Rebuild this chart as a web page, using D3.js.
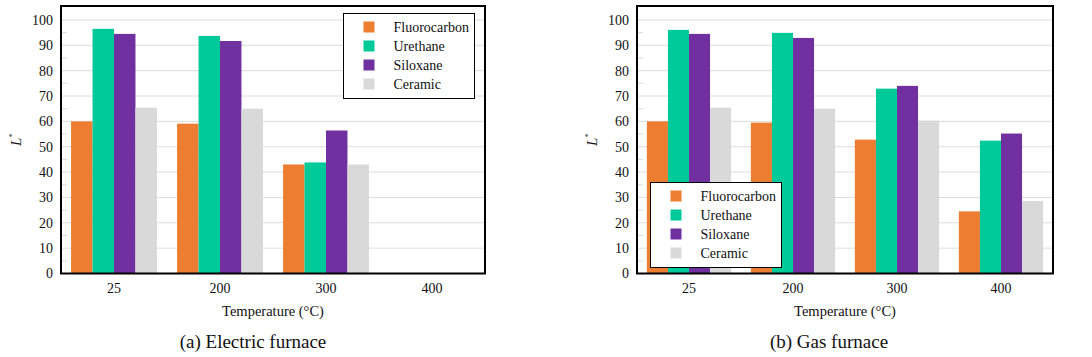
<!DOCTYPE html>
<html><head><meta charset="utf-8">
<script src="https://cdn.jsdelivr.net/npm/d3@7"></script>
<style>body{margin:0;background:#fff}svg{display:block}</style>
</head><body><svg id="c" width="1092" height="357"></svg>
<script>
const categories = ["25", "200", "300", "400"];
const seriesNames = ["Fluorocarbon", "Urethane", "Siloxane", "Ceramic"];
const seriesColors = ["#ED7D31", "#00C99A", "#7030A0", "#D9D9D9"];
const electricFluorocarbon = [60.0, 59.1, 43.0, null];
const electricUrethane = [96.5, 93.7, 43.8, null];
const electricSiloxane = [94.5, 91.7, 56.4, null];
const electricCeramic = [65.4, 65.0, 43.0, null];
const gasFluorocarbon = [60.0, 59.5, 52.8, 24.5];
const gasUrethane = [96.1, 94.9, 72.9, 52.4];
const gasSiloxane = [94.5, 92.9, 74.0, 55.2];
const gasCeramic = [65.4, 65.0, 60.3, 28.6];
const yTicks = [0,10,20,30,40,50,60,70,80,90,100];
const yMinorTicks = [5,15,25,35,45,55,65,75,85,95];

const FONT = '"Liberation Serif", "Times New Roman", Tinos, serif';
const svg = d3.select("#c");

function panel(opt) {
  const {x0, x1, y0, y1, series, caption, legendX, legendY} = opt;
  const g = svg.append("g");
  const x = d3.scaleBand().domain(categories).range([x0, x1]).paddingInner(0.19).paddingOuter(0.095);
  const xs = d3.scaleBand().domain(seriesNames).range([0, x.bandwidth()]);
  const y = d3.scaleLinear().domain([0, 105.5]).range([y1, y0]);

  g.selectAll(".grid").data(yTicks.slice(1)).join("line")
    .attr("x1", x0).attr("x2", x1).attr("y1", d => y(d)).attr("y2", d => y(d))
    .attr("stroke", "#dcdcdc").attr("stroke-width", 1);
  g.selectAll(".minor").data(yMinorTicks).join("line")
    .attr("x1", x0).attr("x2", x0 + 6).attr("y1", d => y(d)).attr("y2", d => y(d))
    .attr("stroke", "#dcdcdc").attr("stroke-width", 1);

  series.forEach((vals, si) => {
    g.append("g").selectAll("rect").data(categories.map((c, i) => ({c, v: vals[i]})).filter(d => d.v != null))
      .join("rect")
      .attr("x", d => x(d.c) + xs(seriesNames[si]))
      .attr("width", xs.bandwidth())
      .attr("y", d => y(d.v))
      .attr("height", d => y(0) - y(d.v))
      .attr("fill", seriesColors[si]);
  });

  g.append("rect").attr("x", x0).attr("y", y0).attr("width", x1 - x0).attr("height", y1 - y0)
    .attr("fill", "none").attr("stroke", "#000").attr("stroke-width", 2);

  const ya = g.append("g").attr("transform", `translate(${x0},0)`)
    .call(d3.axisLeft(y).tickValues(yTicks).tickSize(0).tickPadding(8));
  ya.select(".domain").remove();
  ya.selectAll("text").style("font-family", FONT).style("font-size", "14px").style("fill", "#111");

  const xa = g.append("g").attr("transform", `translate(0,${y1})`)
    .call(d3.axisBottom(x).tickSize(0).tickPadding(10));
  xa.select(".domain").remove();
  xa.selectAll("text").style("font-family", FONT).style("font-size", "14px").style("fill", "#111");

  g.append("text").attr("x", (x0 + x1) / 2).attr("y", 316).attr("text-anchor", "middle")
    .style("font-family", FONT).style("font-size", "14.5px").style("fill", "#111").text("Temperature (°C)");
  const lab = g.append("text").attr("transform", `translate(${x0 - 40},${(y0 + y1) / 2}) rotate(-90)`)
    .attr("text-anchor", "middle").style("font-family", FONT).style("font-size", "15px").style("font-style", "italic").style("fill", "#111");
  lab.append("tspan").text("L");
  lab.append("tspan").attr("dy", -6).style("font-size", "8px").style("font-style", "normal").text("*");

  g.append("text").attr("x", (x0 + x1) / 2 + opt.capDx).attr("y", 348).attr("text-anchor", "middle")
    .style("font-family", FONT).style("font-size", "19px").style("fill", "#111").text(caption);

  const lg = g.append("g").attr("transform", `translate(${legendX},${legendY})`);
  lg.append("rect").attr("width", 131).attr("height", 85).attr("fill", "#fff").attr("stroke", "#000").attr("stroke-width", 1);
  seriesNames.forEach((n, i) => {
    lg.append("rect").attr("x", 20).attr("y", 8 + i * 19).attr("width", 11).attr("height", 11).attr("fill", seriesColors[i]);
    lg.append("text").attr("x", 50).attr("y", 13.5 + i * 19).attr("dy", "0.35em")
      .style("font-family", FONT).style("font-size", "14px").style("fill", "#111").text(n);
  });
}

panel({x0: 61, x1: 485, y0: 6, y1: 273.5,
  series: [electricFluorocarbon, electricUrethane, electricSiloxane, electricCeramic],
  caption: "(a) Electric furnace", legendX: 343.5, legendY: 13.5, capDx: -20});
panel({x0: 637, x1: 1053, y0: 6, y1: 273.5,
  series: [gasFluorocarbon, gasUrethane, gasSiloxane, gasCeramic],
  caption: "(b) Gas furnace", legendX: 650.5, legendY: 182.5, capDx: -16});
</script></body></html>
